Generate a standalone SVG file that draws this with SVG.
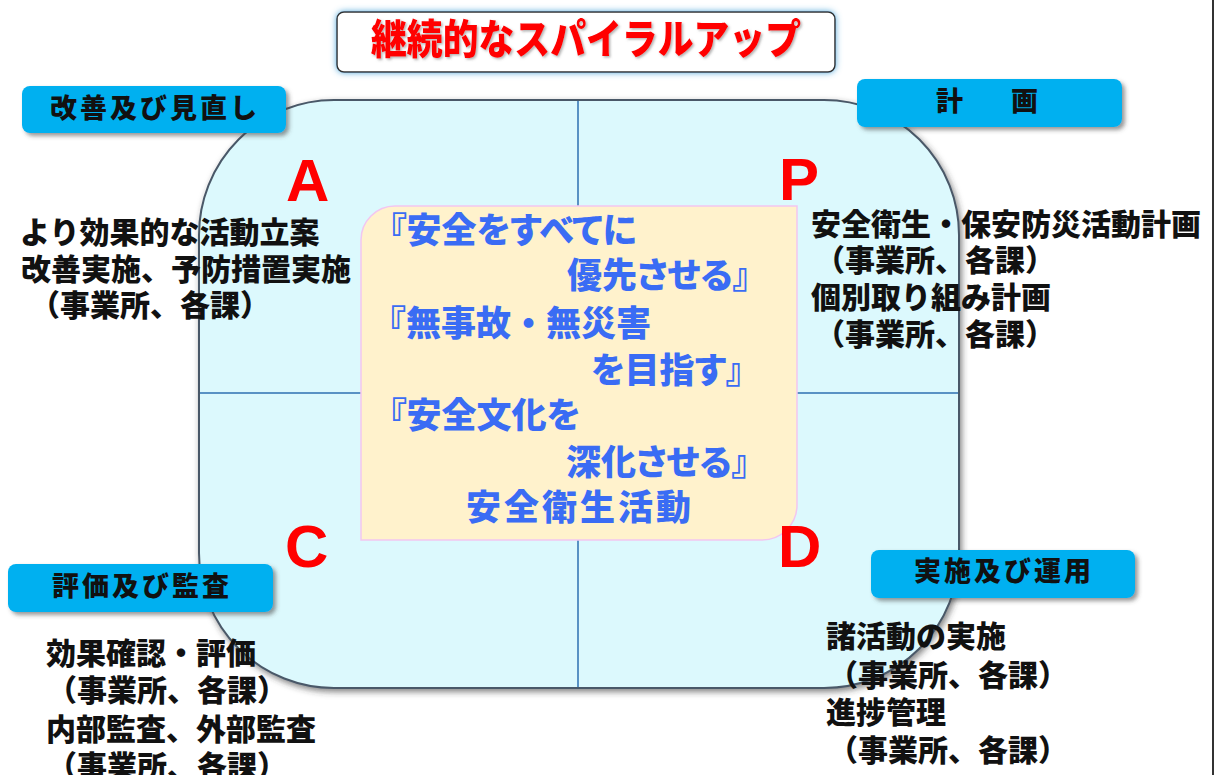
<svg xmlns="http://www.w3.org/2000/svg" width="1215" height="775" viewBox="0 0 1215 775">
<defs>
<filter id="shadow" x="-10%" y="-10%" width="130%" height="140%">
<feDropShadow dx="3" dy="3" stdDeviation="2" flood-color="#444" flood-opacity="0.55"/>
</filter>
<filter id="bigshadow" x="-5%" y="-5%" width="115%" height="115%">
<feDropShadow dx="2" dy="3" stdDeviation="3" flood-color="#333" flood-opacity="0.6"/>
</filter>
<filter id="glow" x="-10%" y="-40%" width="120%" height="180%">
<feDropShadow dx="0" dy="0" stdDeviation="3" flood-color="#3FA0D8" flood-opacity="0.9"/>
</filter>
<filter id="tshadow" x="-5%" y="-20%" width="110%" height="140%">
<feDropShadow dx="1.5" dy="1.5" stdDeviation="1" flood-color="#666" flood-opacity="0.5"/>
</filter>
<style>
.jp{font-family:"Noto Sans CJK JP","Noto Sans CJK SC",sans-serif;font-weight:900}
.body{font-size:30px;fill:#111}
.lab{font-size:27px;fill:#111;letter-spacing:3px}
.labbox{fill:#00B0F0}
.ctr{font-size:35px;fill:#3A6CF4}
.palt{font-feature-settings:"palt" 1}
.pdca{font-family:"Liberation Sans",Arial,sans-serif;font-weight:700;font-size:60px;fill:#FF0000}
.quad{stroke:#2E6FB0;stroke-width:1.5;fill:none}
</style>
</defs>
<rect x="0" y="0" width="1215" height="775" fill="#FFFFFF"/>
<line x1="1213" y1="0" x2="1213" y2="775" stroke="#333" stroke-width="2"/>

<g id="cycle">
<rect x="199" y="100" width="760" height="588" rx="135" ry="135" fill="#DCF9FD" stroke="#4A5868" stroke-width="2" filter="url(#bigshadow)"/>
</g>

<g id="connectors">
<line class="quad" x1="578" y1="101" x2="578" y2="687"/>
<line class="quad" x1="200" y1="393" x2="958" y2="393"/>
</g>

<g id="center">
<path d="M361,240 A34,34 0 0 1 395,206 L797,206 L797,505 A35,35 0 0 1 762,540 L361,540 Z" fill="#FFF2CC" stroke="#F2C6F0" stroke-width="1.5"/>
<text class="jp ctr palt" x="389" y="243">『安全をすべてに</text>
<text class="jp ctr palt" x="567" y="288">優先させる』</text>
<text class="jp ctr" x="371" y="336">『無事故・無災害</text>
<text class="jp ctr palt" x="591" y="383">を目指す』</text>
<text class="jp ctr palt" x="389" y="428">『安全文化を</text>
<text class="jp ctr palt" x="566" y="475">深化させる』</text>
<text class="jp ctr" x="580" y="520" text-anchor="middle" style="letter-spacing:3px">安全衛生活動</text>
</g>

<g id="letters">
<text class="pdca" x="286" y="201">A</text>
<text class="pdca" x="779" y="200">P</text>
<text class="pdca" x="285" y="567">C</text>
<text class="pdca" x="778" y="567">D</text>
</g>

<g id="title">
<rect x="337" y="12" width="498" height="60" rx="7" fill="#FFFFFF" stroke="#333" stroke-width="1.5" filter="url(#glow)"/>
<text class="jp" x="586" y="54" text-anchor="middle" font-size="41" fill="#FF0000" textLength="430" lengthAdjust="spacingAndGlyphs" filter="url(#tshadow)">継続的なスパイラルアップ</text>
</g>

<g id="label-act">
<rect class="labbox" x="22" y="86" width="264" height="47" rx="8" filter="url(#shadow)"/>
<text class="jp lab" x="155" y="118" text-anchor="middle">改善及び見直し</text>
</g>
<g id="label-plan">
<rect class="labbox" x="857" y="79" width="265" height="48" rx="8" filter="url(#shadow)"/>
<text class="jp" x="936" y="111" font-size="27" fill="#111">計<tspan dx="48">画</tspan></text>
</g>
<g id="label-check">
<rect class="labbox" x="8" y="564" width="265" height="48" rx="8" filter="url(#shadow)"/>
<text class="jp lab" x="142" y="596" text-anchor="middle">評価及び監査</text>
</g>
<g id="label-do">
<rect class="labbox" x="871" y="550" width="264" height="48" rx="8" filter="url(#shadow)"/>
<text class="jp lab" x="1004" y="581" text-anchor="middle">実施及び運用</text>
</g>

<g id="text-act">
<text class="jp body" x="20" y="243">より効果的な活動立案</text>
<text class="jp body" x="21" y="280">改善実施、予防措置実施</text>
<text class="jp body" x="30" y="316">（事業所、各課）</text>
</g>
<g id="text-plan">
<text class="jp body" x="811" y="235">安全衛生・保安防災活動計画</text>
<text class="jp body" x="815" y="271">（事業所、各課）</text>
<text class="jp body" x="811" y="308">個別取り組み計画</text>
<text class="jp body" x="815" y="345">（事業所、各課）</text>
</g>
<g id="text-check">
<text class="jp body" x="46" y="664">効果確認・評価</text>
<text class="jp body" x="47" y="701">（事業所、各課）</text>
<text class="jp body" x="46" y="740">内部監査、外部監査</text>
<text class="jp body" x="47" y="777">（事業所、各課）</text>
</g>
<g id="text-do">
<text class="jp body" x="826" y="647">諸活動の実施</text>
<text class="jp body" x="828" y="686">（事業所、各課）</text>
<text class="jp body" x="826" y="723">進捗管理</text>
<text class="jp body" x="828" y="761">（事業所、各課）</text>
</g>
</svg>
